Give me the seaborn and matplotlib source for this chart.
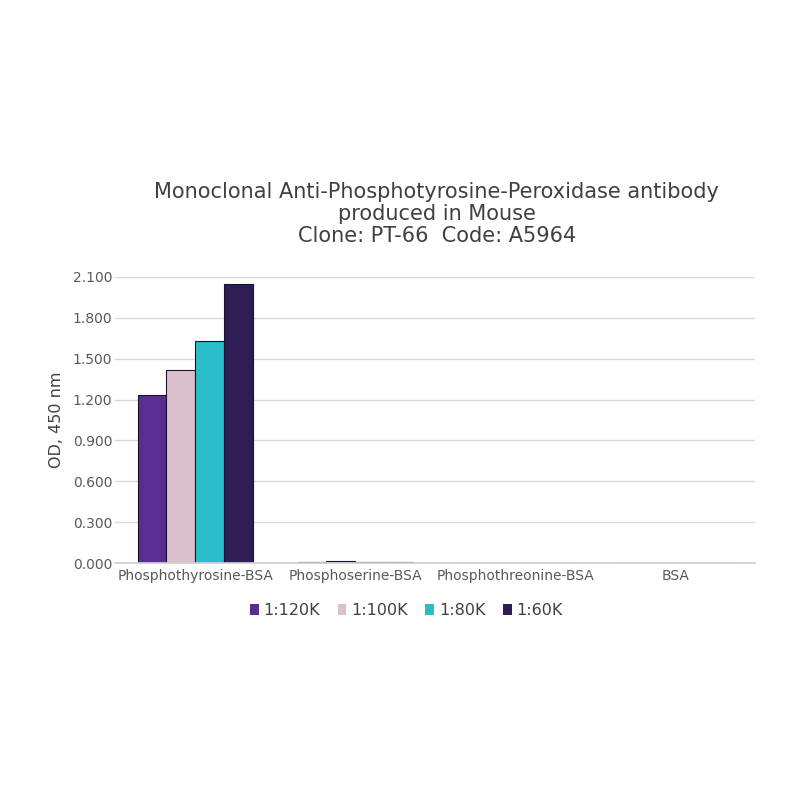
import matplotlib
matplotlib.use("Agg")
import matplotlib.pyplot as plt
import seaborn as sns
import pandas as pd
from matplotlib.ticker import FormatStrFormatter

# Data
antigens = ["Phosphothyrosine-BSA", "Phosphoserine-BSA", "Phosphothreonine-BSA", "BSA"]
dilutions = ["1:120K", "1:100K", "1:80K", "1:60K"]
od_120k = [1.230, 0.010, 0.002, 0.001]
od_100k = [1.417, 0.014, 0.002, 0.001]
od_80k = [1.632, 0.011, 0.002, 0.001]
od_60k = [2.048, 0.009, 0.002, 0.001]
colors = ["#5a2d91", "#dcc1cd", "#2bbdca", "#301c55"]

rows = []
for dil, vals in zip(dilutions, [od_120k, od_100k, od_80k, od_60k]):
    for ag, v in zip(antigens, vals):
        rows.append({"Antigen": ag, "Dilution": dil, "OD": v})
df = pd.DataFrame(rows)

sns.set_theme(style="white")
plt.rcParams['font.family'] = ['DejaVu Sans']

fig = plt.figure(figsize=(8, 8), dpi=100)
ax = fig.add_axes([0.144, 0.296, 0.80, 0.358])

sns.barplot(data=df, x="Antigen", y="OD", hue="Dilution", order=antigens,
            hue_order=dilutions, palette=colors, saturation=1, width=0.72,
            gap=0.0, edgecolor="#1a1030", linewidth=0.8, ax=ax)

ax.set_ylim(0, 2.1)
ax.set_yticks([0.3 * i for i in range(8)])
ax.yaxis.set_major_formatter(FormatStrFormatter("%.3f"))
ax.yaxis.grid(True, color="#d9d9d9", linewidth=1)
ax.set_axisbelow(True)
for s in ["top", "right", "left"]:
    ax.spines[s].set_visible(False)
ax.spines["bottom"].set_color("#d0d0d0")
ax.tick_params(axis="both", length=0, colors="#595959")
ax.tick_params(axis="y", labelsize=10, pad=2)
ax.tick_params(axis="x", labelsize=10, pad=4)
ax.set_xlabel("")
ax.set_ylabel("OD, 450 nm", fontsize=11.5, color="#404040", labelpad=6)

fig.text(0.546, 0.7325, "Monoclonal Anti-Phosphotyrosine-Peroxidase antibody\n"
         "produced in Mouse\nClone: PT-66  Code: A5964",
         ha="center", va="center", fontsize=15, color="#404040", linespacing=1.15)

leg = ax.legend(loc="upper center", bbox_to_anchor=(0.455, -0.09), ncol=4,
                frameon=False, fontsize=11.5, handlelength=0.55, handleheight=0.7,
                handletextpad=0.3, columnspacing=1.1)
for h in leg.legend_handles:
    h.set_edgecolor("none")
for t in leg.get_texts():
    t.set_color("#404040")

fig.savefig("out.png", dpi=100, facecolor="white")
